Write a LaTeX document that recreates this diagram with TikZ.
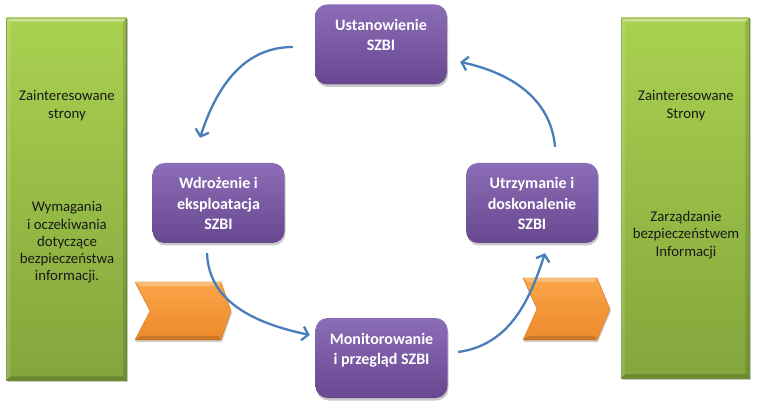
\documentclass[tikz,border=0pt]{standalone}
\usepackage{fontspec}
\setmainfont{Carlito}
\usetikzlibrary{arrows.meta,shadows,calc}
\definecolor{arrowblue}{HTML}{4A7EBB}
\definecolor{greentop}{HTML}{A9D150}
\definecolor{greenbot}{HTML}{84A53C}
\definecolor{greenedge}{HTML}{7A9A36}
\definecolor{purtop}{HTML}{8B6CB6}
\definecolor{purbot}{HTML}{684990}
\definecolor{oratop}{HTML}{FAA548}
\definecolor{orabot}{HTML}{EC8A2C}
\definecolor{oraedge}{HTML}{D8781E}
\newcommand\mybevel[2]{%
  \fill[white,opacity=.35] (#1.north west) -- (#1.north east) -- ($(#1.north east)+(-#2,-#2)$) -- ($(#1.north west)+(#2,-#2)$) -- cycle;
  \fill[black,opacity=.18] (#1.south west) -- (#1.south east) -- ($(#1.south east)+(-#2,#2)$) -- ($(#1.south west)+(#2,#2)$) -- cycle;
  \fill[white,opacity=.15] (#1.south west) -- (#1.north west) -- ($(#1.north west)+(#2,-#2)$) -- ($(#1.south west)+(#2,#2)$) -- cycle;
  \fill[black,opacity=.12] (#1.south east) -- (#1.north east) -- ($(#1.north east)+(-#2,-#2)$) -- ($(#1.south east)+(-#2,#2)$) -- cycle;}
\newcommand\boxtext[1]{\parbox[c][80pt][t]{130pt}{\centering\rule{0pt}{26pt}#1}}
\begin{document}
\begin{tikzpicture}[x=1pt,y=1pt,
  greenbar/.style={rectangle, inner sep=0pt, top color=greentop, bottom color=greenbot, draw=greenedge, line width=0.6pt,
    drop shadow={shadow xshift=1.5pt, shadow yshift=-1.5pt, opacity=.35, fill=black!60}},
  greentext/.style={align=center, text=black!90, font=\fontsize{14.8}{17.3}\selectfont, inner sep=0pt},
  purplebox/.style={rectangle, rounded corners=12pt, inner sep=0pt, minimum width=132pt, minimum height=80pt,
    top color=purtop, bottom color=purbot, text=white, font=\fontsize{16}{20.5}\selectfont\bfseries,
    drop shadow={shadow xshift=1pt, shadow yshift=-2.5pt, opacity=.35, fill=black!60}},
  chev/.style={top color=oratop, bottom color=orabot, draw=oraedge, line width=0.4pt,
    drop shadow={shadow xshift=1pt, shadow yshift=-2pt, opacity=.3, fill=black!60}},
  chevlight/.style={fill=white, opacity=.28},
  chevdark/.style={fill=black, opacity=.14},
  flow/.style={draw=arrowblue, line width=2.3pt, -{Straight Barb[length=6pt,width=14pt]}}
]
\useasboundingbox (0,0) rectangle (757,407);
\fill[white] (0,0) rectangle (757,407);

% green side bars
\node[greenbar, minimum width=120pt, minimum height=362pt] (lbar) at (66.7,208) {};
\node[greenbar, minimum width=128pt, minimum height=360pt] (rbar) at (685,209) {};
\mybevel{lbar}{4}
\mybevel{rbar}{4}
\node[greentext] (lt1) at (67,301.5) {Zainteresowane\\strony};
\node[greentext] (lt2) at (67,164.5) {Wymagania\\i oczekiwania\\dotyczące\\bezpieczeństwa\\informacji.};
\node[greentext] (rt1) at (686,301.5) {Zainteresowane\\Strony};
\node[greentext] (rt2) at (686,172) {Zarządzanie\\bezpieczeństwem\\Informacji};

% orange chevrons
\path[chev] (135,125) -- (221,125) -- (231,96) -- (221,67) -- (135,67) -- (150,96) -- cycle;
\fill[chevlight] (135,125) -- (221,125) -- (218,121) -- (141,121) -- cycle;
\fill[chevdark] (135,67) -- (221,67) -- (218,71) -- (141,71) -- cycle;
\path[chev] (523,129) -- (597,129) -- (610,98) -- (597,67) -- (523,67) -- (537,98) -- cycle;
\fill[chevlight] (523,129) -- (597,129) -- (594,125) -- (529,125) -- cycle;
\fill[chevdark] (523,67) -- (597,67) -- (594,71) -- (529,71) -- cycle;

% purple boxes
\node[purplebox] (ust) at (381,362.5) {\boxtext{Ustanowienie\\SZBI}};
\node[purplebox] (wdr) at (218.5,204) {\boxtext{Wdrożenie i\\eksploatacja\\SZBI}};
\node[purplebox] (utr) at (532,204) {\boxtext{Utrzymanie i\\doskonalenie\\SZBI}};
\node[purplebox] (mon) at (381.5,49) {\boxtext{Monitorowanie\\i przegląd SZBI}};

% cycle arrows
\coordinate (a1s) at ($(ust.west)+(-22,-2.5)$);
\coordinate (a1e) at ($(wdr.north)+(-18.5,25)$);
\coordinate (a2s) at ($(wdr.south)+(-11.5,-10)$);
\coordinate (a2e) at ($(mon.west)+(-5.5,23)$);
\coordinate (a3s) at ($(mon.east)+(10.5,6)$);
\coordinate (a3e) at ($(utr.south)+(13,-10)$);
\coordinate (a4s) at ($(utr.north)+(23,16)$);
\coordinate (a4e) at ($(ust.east)+(13,-17.5)$);
\draw[flow] (a1s) to[out=180,in=72] (a1e);
\draw[flow] (a2s) to[out=-88,in=168] (a2e);
\draw[flow] (a3s) to[out=8,in=-108] (a3e);
\draw[flow] (a4s) to[out=95,in=-12] (a4e);
\end{tikzpicture}
\end{document}
